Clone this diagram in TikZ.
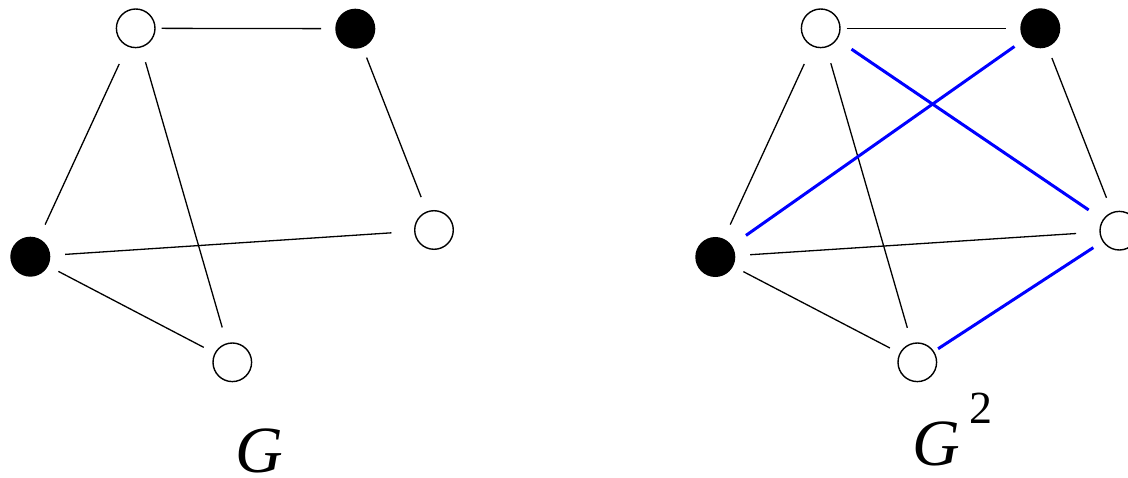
\documentclass[tikz,border=0pt]{standalone}
\usepackage{fontspec}
\setmainfont{Liberation Serif}
\newfontfamily\lblfont{Liberation Serif}
\begin{document}
\begin{tikzpicture}[x=1pt,y=-1pt,
  vtx/.style={circle,draw=black,line width=1.4pt,minimum size=38.6pt,inner sep=0pt,outer sep=0pt},
  wv/.style={vtx,fill=white},
  bv/.style={vtx,fill=black},
  edge/.style={draw=black,line width=1.3pt},
  bedge/.style={draw=blue,line width=3pt},
  lbl/.style={inner sep=0pt,font=\lblfont\itshape\fontsize{66}{66}\selectfont},
  sup/.style={inner sep=0pt,font=\lblfont\fontsize{46}{46}\selectfont}]
\useasboundingbox (0,0) rectangle (1128,478);
\clip (0,0) rectangle (1128,478);
% left graph G
\node[wv] (a) at (135.7,28.3) {};
\node[bv] (b) at (355.3,28.7) {};
\node[wv] (c) at (434,230) {};
\node[bv] (d) at (30.3,256.7) {};
\node[wv] (e) at (232.3,362.3) {};
\draw[edge,shorten <=6.6pt,shorten >=15pt] (a) -- (b);
\draw[edge,shorten <=20pt,shorten >=16pt] (a) -- (d);
\draw[edge,shorten <=16pt,shorten >=17pt] (a) -- (e);
\draw[edge,shorten <=11.7pt,shorten >=16pt] (b) -- (c);
\draw[edge,shorten <=15.7pt,shorten >=23.3pt] (d) -- (c);
\draw[edge,shorten <=12.4pt,shorten >=12.9pt] (d) -- (e);
\node[lbl] (g1) at (259.5,450.5) {G};
% right graph G^2
\node[wv] (a2) at (820.7,28.3) {};
\node[bv] (b2) at (1040.3,28.3) {};
\node[wv] (c2) at (1119.3,230.7) {};
\node[bv] (d2) at (715.3,257) {};
\node[wv] (e2) at (917.3,362.3) {};
\draw[edge,shorten <=6.6pt,shorten >=15.3pt] (a2) -- (b2);
\draw[edge,shorten <=20pt,shorten >=16.4pt] (a2) -- (d2);
\draw[edge,shorten <=17pt,shorten >=16.6pt] (a2) -- (e2);
\draw[edge,shorten <=12.6pt,shorten >=16pt] (b2) -- (c2);
\draw[edge,shorten <=15.7pt,shorten >=24pt] (d2) -- (c2);
\draw[edge,shorten <=12.3pt,shorten >=11.6pt] (d2) -- (e2);
\draw[bedge,shorten <=18.2pt,shorten >=12.3pt] (d2) -- (b2);
\draw[bedge,shorten <=17.9pt,shorten >=17.7pt] (a2) -- (c2);
\draw[bedge,shorten <=5.5pt,shorten >=11.7pt] (e2) -- (c2);
\node[lbl] (g2) at (936,443.5) {G};
\node[sup] (two) at (981,408.5) {2};
\end{tikzpicture}
\end{document}
